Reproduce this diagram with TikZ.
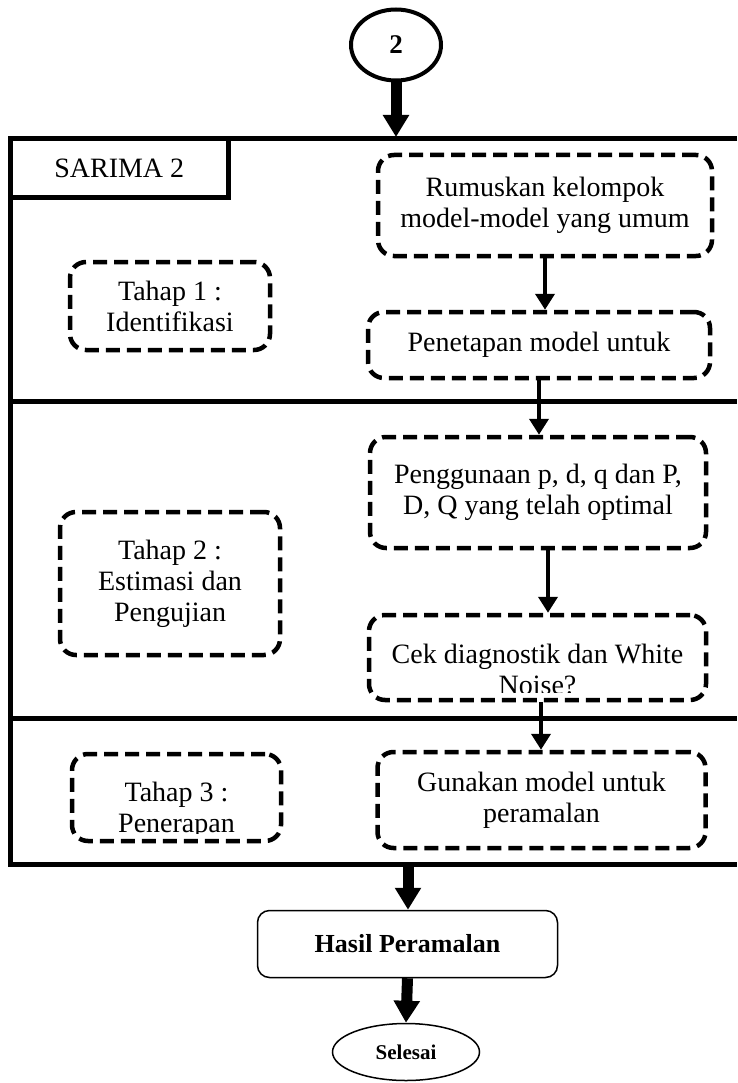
\documentclass[tikz,border=0pt]{standalone}
\usepackage{fontspec}
\setmainfont{Liberation Serif}
\usetikzlibrary{arrows.meta,shapes.geometric}
\begin{document}
\begin{tikzpicture}[x=1pt,y=-1pt,
  txt/.style={align=center, inner sep=0pt, font=\fontsize{28}{31}\selectfont},
  dbox/.style={draw, line width=4.5pt, dash pattern=on 14pt off 7pt,
    rounded corners=16pt, txt},
  thinarrow/.style={line width=4.5pt, -{Triangle[width=19pt,length=16pt]}},
  thickarrow/.style={line width=11pt, -{Triangle[width=25pt,length=22pt]}},
  framestyle/.style={line width=5pt}]
\useasboundingbox (0,0) rectangle (737,1083);

% connector circle
\node[ellipse, draw, line width=4pt, minimum width=90pt, minimum height=71pt,
  inner sep=0pt, font=\bfseries\fontsize{27}{30}\selectfont] (c2) at (396,45) {2};

% swimlane frame
\draw[framestyle] (737,139) -- (10.5,139) -- (10.5,864) -- (737,864);
\draw[framestyle] (10.5,401) -- (737,401);
\draw[framestyle] (10.5,718) -- (737,718);
\node[draw, line width=5pt, outer sep=0pt, anchor=north west,
  minimum width=217.5pt, minimum height=59pt, txt] (sarima) at (10.5,139) {SARIMA 2};
\coordinate (ftop) at (397,137);
\coordinate (fbot) at (408,864);

% stage labels
\node[dbox, minimum width=200pt, minimum height=88pt] (t1) at (170,306)
  {Tahap 1 :\\Identifikasi};
\node[dbox, minimum width=220pt, minimum height=143pt] (t2) at (170,583.5)
  {Tahap 2 :\\Estimasi dan\\Pengujian};
\node[dbox, minimum width=209pt, minimum height=87pt] (t3) at (176.5,797.5) {};
\begin{scope}
  \clip (t3.north west) rectangle (t3.east |- 0,833);
  \node[txt] (t3text) at (176.5,810) {Tahap 3 :\\Penerapan};
\end{scope}

% process steps
\node[dbox, minimum width=334pt, minimum height=101pt] (r1) at (545,205.5)
  {Rumuskan kelompok\\model-model yang umum};
\node[dbox, minimum width=342pt, minimum height=66pt] (r2) at (539,345)
  {Penetapan model untuk};
\node[dbox, minimum width=336pt, minimum height=111pt] (r3) at (538,492.5)
  {Penggunaan p, d, q dan P,\\D, Q yang telah optimal};
\node[dbox, minimum width=337pt, minimum height=85pt] (r4) at (537.5,657.5) {};
\begin{scope}
  \clip (r4.north west) rectangle (r4.east |- 0,692);
  \node[txt] (r4text) at (537.5,669) {Cek diagnostik dan White\\Noise?};
\end{scope}
\node[dbox, minimum width=328pt, minimum height=96pt] (r5) at (541.5,800)
  {Gunakan model untuk\\peramalan};

% result and end
\node[draw, line width=1.5pt, rounded corners=12pt, minimum width=300pt,
  minimum height=67pt, font=\bfseries\fontsize{26}{30}\selectfont] (hasil)
  at (407.5,944) {Hasil Peramalan};
\node[ellipse, draw, line width=1.5pt, minimum width=147pt, minimum height=57pt,
  inner sep=0pt, font=\bfseries\fontsize{21}{24}\selectfont] (selesai)
  at (406,1052) {Selesai};

% connectors
\draw[thickarrow] (c2.south) -- (c2.south |- ftop);
\draw[thinarrow] (r1.south) -- (r1.south |- r2.north);
\draw[thinarrow] (r2.south) -- (r2.south |- r3.north);
\draw[thinarrow] ([xshift=10pt]r3.south) -- ([xshift=10pt]r3.south |- r4.north);
\draw[thinarrow] ([xshift=3.5pt]r4.south) -- ([xshift=3.5pt]r4.south |- r5.north);
\draw[thickarrow] (fbot) -- (fbot |- hasil.north);
\draw[thickarrow] (hasil.south) -- (selesai.north);
\end{tikzpicture}
\end{document}
